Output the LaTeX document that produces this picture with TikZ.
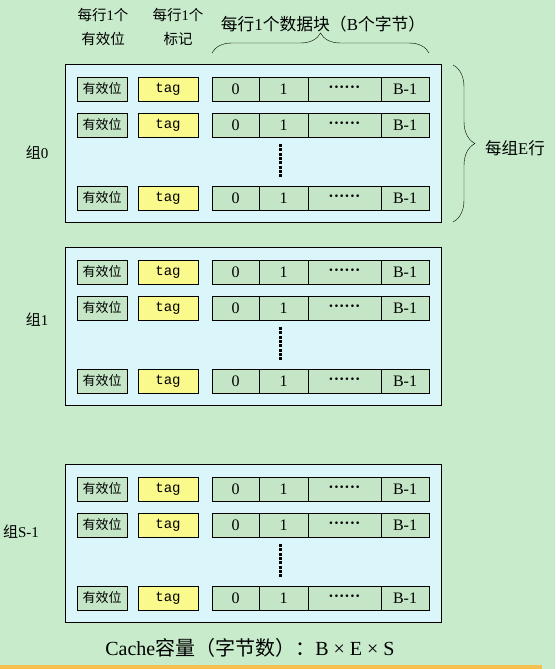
\documentclass[tikz,border=0pt]{standalone}
\usepackage{fontspec}
\setmainfont{Liberation Serif}
\setmonofont{Liberation Mono}
\newfontfamily\cjk{Noto Sans CJK SC}
\newcommand{\zh}[1]{{\cjk #1}}
\usetikzlibrary{decorations.pathreplacing}
\definecolor{bgGreen}{RGB}{199,235,203}
\definecolor{setCyan}{RGB}{218,246,251}
\definecolor{cellGreen}{RGB}{196,230,199}
\definecolor{tagYellow}{RGB}{249,249,140}
\definecolor{barOrange}{RGB}{246,192,78}

\tikzset{
  cell/.style={rectangle, draw, line width=0.9pt, fill=cellGreen, minimum height=24pt, inner sep=0pt, font=\fontsize{16}{16}\selectfont},
  validcell/.style={cell, minimum width=50pt, font=\cjk\fontsize{13}{13}\selectfont},
  tagcell/.style={cell, fill=tagYellow, minimum width=60pt, font=\ttfamily\fontsize{14}{14}\selectfont},
  setbox/.style={rectangle, draw, line width=0.9pt, fill=setCyan, minimum width=376pt, minimum height=158pt, inner sep=0pt},
  dotline/.style={line width=3pt, dash pattern=on 3pt off 1.3pt},
  headtext/.style={font=\fontsize{14.5}{24}\selectfont}
}

\begin{document}
\begin{tikzpicture}[x=1pt, y=-1pt]
      \fill[bgGreen] (0,0) rectangle (555,669);
      \useasboundingbox (0,0) rectangle (555,669);
      \fill[barOrange] (0,665) rectangle (542,669);

      % column headings
      \node (HV) [headtext] at (103,28) {
        \begin{tabular}{c}
          \zh{每行}1\zh{个} \\
          \zh{有效位}
        \end{tabular}
      };
      \node (HT) [headtext] at (178,28) {
        \begin{tabular}{c}
          \zh{每行}1\zh{个} \\
          \zh{标记}
        \end{tabular}
      };
      \node (HD) [font=\fontsize{16.8}{16.8}\selectfont] at (323,24) {\zh{每行}1\zh{个数据块（}B\zh{个字节）}};
      \coordinate (BL) at (212,53);
      \coordinate (BR) at (429,53);
      \draw[decorate, decoration={brace, amplitude=20pt}] (BL) -- (BR);

      % the sets
      \foreach \g/\top/\name/\lx/\ly in {0/64/{\zh{组}0}/37/153, 1/247/{\zh{组}1}/37/320, 2/464/{\zh{组}S-1}/21/532} {
        \node (S\g) [setbox, anchor=north west] at (65,\top) {};
        \node (L\g) [font=\fontsize{15}{15}\selectfont] at (\lx,\ly) {\name};
        \foreach \r/\dy in {1/25, 2/61, 3/134} {
          \node (V\g\r) [validcell] at (102,\top+\dy) {有效位};
          \node (T\g\r) [tagcell] at (168,\top+\dy) {tag};
          \node (D\g\r-0) [cell, minimum width=47pt] at (235.5,\top+\dy) {0};
          \node (D\g\r-1) [cell, minimum width=49pt] at (283.5,\top+\dy) {1};
          \node (D\g\r-2) [cell, minimum width=73pt] at (344.5,\top+\dy) {\bfseries ······};
          \node (D\g\r-3) [cell, minimum width=48pt] at (405,\top+\dy) {B-1};
        }
        \draw[dotline] (280,\top+80) -- (280,\top+114);
      }

      % lines per set
      \coordinate (RT) at (453,65);
      \coordinate (RB) at (453,222);
      \draw[decorate, decoration={brace, amplitude=22pt}] (RT) -- (RB);
      \node (E) [font=\fontsize{16.5}{16.5}\selectfont] at (515,148) {\zh{每组}E\zh{行}};

      \node (C) [font=\fontsize{20}{20}\selectfont] at (250,648) {Cache\zh{容量（字节数）：}B × E × S};
    \end{tikzpicture}
\end{document}
